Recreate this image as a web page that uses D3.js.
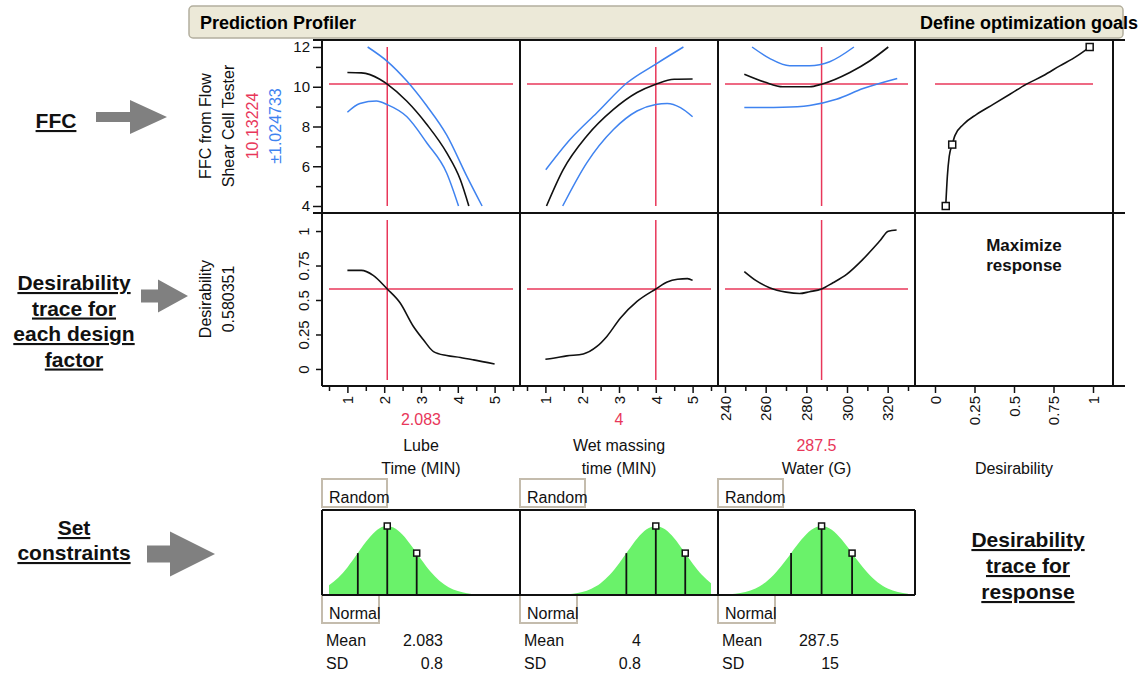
<!DOCTYPE html>
<html>
<head>
<meta charset="utf-8">
<script src="https://cdn.jsdelivr.net/npm/d3@7"></script>
<style>
  body { margin: 0; background: #fff; }
  svg { display: block; font-family: 'Liberation Sans', Arial, sans-serif; }
</style>
</head>
<body>
<div id="chart"></div>
<script>
// profiler traces as [x, y] pairs
const lubeFit = [[1.0, 10.72], [1.38, 10.7], [1.88, 10.38], [2.083, 10.13], [2.61, 9.28], [3.16, 8.1], [3.7, 6.67], [4.07, 5.32], [4.3, 4.0]];
const lubeUpper = [[1.55, 12.0], [2.083, 11.28], [2.61, 10.3], [3.16, 9.03], [3.7, 7.57], [4.25, 5.48], [4.66, 4.0]];
const lubeLower = [[1.0, 8.72], [1.34, 9.16], [1.79, 9.28], [2.083, 9.1], [2.61, 8.5], [3.16, 7.17], [3.7, 5.65], [4.02, 4.0]];

const wetFit = [[1.03, 4.0], [1.48, 5.82], [2.12, 7.51], [2.85, 8.86], [3.49, 9.71], [4.0, 10.13], [4.5, 10.38], [5.0, 10.39]];
const wetUpper = [[1.01, 5.82], [1.67, 7.34], [2.4, 8.69], [3.22, 10.2], [4.0, 11.14], [4.75, 12.0]];
const wetLower = [[1.47, 4.0], [2.12, 6.16], [2.85, 7.85], [3.49, 8.78], [4.0, 9.11], [4.31, 9.16], [4.67, 8.95], [5.0, 8.49]];

const waterFit = [[249.5, 10.63], [259.4, 10.24], [268.4, 10.0], [281.6, 10.0], [287.5, 10.13], [301.4, 10.72], [311.3, 11.31], [320.3, 12.0]];
const waterUpper = [[253.3, 12.0], [261.9, 11.43], [271.8, 11.06], [281.6, 11.06], [291.5, 11.26], [303.4, 12.0]];
const waterLower = [[249.5, 8.95], [268.4, 8.97], [281.6, 9.06], [294.8, 9.37], [307.9, 9.91], [324.7, 10.42]];

const lubeDes = [[1.0, 0.715], [1.38, 0.715], [1.7, 0.679], [2.083, 0.58], [2.43, 0.48], [2.79, 0.31], [3.07, 0.21], [3.34, 0.126], [3.7, 0.097], [4.07, 0.083], [4.43, 0.066], [5.0, 0.036]];
const wetDes = [[1.0, 0.071], [1.21, 0.078], [1.58, 0.095], [2.03, 0.109], [2.4, 0.163], [2.67, 0.236], [3.04, 0.37], [3.49, 0.49], [4.0, 0.58], [4.31, 0.63], [4.59, 0.65], [4.86, 0.655], [5.0, 0.642]];
const waterDes = [[249.5, 0.706], [255.3, 0.64], [261.9, 0.589], [270.1, 0.557], [276.7, 0.547], [281.6, 0.56], [287.5, 0.58], [293.1, 0.625], [299.8, 0.686], [307.9, 0.796], [316.2, 0.929], [320.3, 0.998], [324.4, 1.007]];

// desirability function (x = desirability, y = FFC)
const desFunction = [[0.068, 4.0], [0.078, 5.48], [0.09, 6.5], [0.109, 7.09], [0.126, 7.54], [0.179, 8.1], [0.263, 8.61], [0.368, 9.11], [0.474, 9.62], [0.579, 10.13], [0.684, 10.55], [0.79, 11.05], [0.895, 11.53], [0.979, 12.0]];
const desHandles = [[0.068, 4.0], [0.109, 7.09], [0.979, 12.0]];

// current settings
const factorNames = [['Lube', 'Time (MIN)'], ['Wet massing', 'time (MIN)'], ['Water (G)']];
const factorValues = [2.083, 4, 287.5];
const factorLabels = ['2.083', '4', '287.5'];
const ffcValue = 10.13224;
const ffcLabel = '10.13224';
const ffcCI = '\u00b11.024733';
const desValue = 0.580351;
const desLabel = '0.580351';

// tick values
const timeTicks = [1, 2, 3, 4, 5];
const timeMinor = [0.5, 1.5, 2.5, 3.5, 4.5, 5.5];
const waterTicks = [240, 260, 280, 300, 320];
const waterMinor = [250, 270, 290, 310, 330];
const desTicks = [0, 0.25, 0.5, 0.75, 1];
const ffcTicks = [4, 6, 8, 10, 12];
const ffcMinor = [5, 7, 9, 11];

// simulator distributions (relative density)
const distMeans = ['2.083', '4', '287.5'];
const distSD = ['0.8', '0.8', '15'];
const lubeDist = [[0.5, 0.141], [0.75, 0.25], [1.0, 0.4], [1.25, 0.582], [1.5, 0.767], [1.75, 0.917], [2.0, 0.995], [2.083, 1], [2.25, 0.978], [2.5, 0.873], [2.75, 0.706], [3.0, 0.518], [3.25, 0.345], [3.5, 0.208], [3.75, 0.114], [4.0, 0.057], [4.25, 0.026], [4.5, 0.01], [4.75, 0.004], [5.0, 0.001], [5.25, 0], [5.5, 0]];
const wetDist = [[0.5, 0], [1.0, 0.001], [1.25, 0.003], [1.5, 0.008], [1.75, 0.019], [2.0, 0.044], [2.25, 0.092], [2.5, 0.172], [2.75, 0.295], [3.0, 0.458], [3.25, 0.644], [3.5, 0.823], [3.75, 0.952], [4.0, 1], [4.25, 0.952], [4.5, 0.823], [4.75, 0.644], [5.0, 0.458], [5.25, 0.295], [5.5, 0.172]];
const waterDist = [[240, 0.007], [245, 0.018], [250, 0.044], [255, 0.096], [260, 0.186], [265, 0.325], [270, 0.506], [275, 0.707], [280, 0.882], [285, 0.986], [287.5, 1], [290, 0.986], [295, 0.882], [300, 0.707], [305, 0.506], [310, 0.325], [315, 0.186], [320, 0.096], [325, 0.044], [330, 0.018]];
const lubeMarks = [[1.283, 0.607], [2.083, 1], [2.883, 0.607]];
const wetMarks = [[3.2, 0.607], [4.0, 1], [4.8, 0.607]];
const waterMarks = [[272.5, 0.607], [287.5, 1], [302.5, 0.607]];

const RED = '#e8375a';
const BLUE = '#3f83f0';
const GREEN = '#6af26a';
const GREY = '#808080';
const FONT = 'Liberation Sans, Arial, sans-serif';

const svg = d3.select('#chart').append('svg').attr('width', 1145).attr('height', 678);

// layout of the profiler grid
const colX = [322, 520, 718, 915, 1113];
const rowY = [40, 213, 386];
const pad = 7;

const xLube = d3.scaleLinear().domain([0.5, 5.5]).range([colX[0] + pad, colX[1] - pad]);
const xWet = d3.scaleLinear().domain([0.5, 5.5]).range([colX[1] + pad, colX[2] - pad]);
const xWater = d3.scaleLinear().domain([240, 330]).range([colX[2] + pad, colX[3] - pad]);
const xDes = d3.scaleLinear().domain([0, 1]).range([colX[3] + 20, colX[4] - 20]);
const yFFC = d3.scaleLinear().domain([4, 12]).range([rowY[1] - pad, rowY[0] + pad]);
const yDes = d3.scaleLinear().domain([-0.08, 1.08]).range([rowY[2] - 6, rowY[1] + 7]);
const yDist = d3.scaleLinear().domain([0, 1]).range([595, 526]);

const factors = [
  { x: xLube, fit: lubeFit, upper: lubeUpper, lower: lubeLower, des: lubeDes, dist: lubeDist, marks: lubeMarks, ticks: timeTicks, minor: timeMinor },
  { x: xWet, fit: wetFit, upper: wetUpper, lower: wetLower, des: wetDes, dist: wetDist, marks: wetMarks, ticks: timeTicks, minor: timeMinor },
  { x: xWater, fit: waterFit, upper: waterUpper, lower: waterLower, des: waterDes, dist: waterDist, marks: waterMarks, ticks: waterTicks, minor: waterMinor }
];

// rotated tick labels under an axis
const rotateBottom = (g) => g.selectAll('text')
  .attr('transform', 'rotate(-90)').attr('x', -10).attr('y', 0).attr('dy', '0.35em')
  .attr('text-anchor', 'end').attr('fill', '#111')
  .style('font-size', '15px').style('font-family', FONT);
const darkTicks = (g) => g.selectAll('line').attr('stroke', '#111').attr('stroke-width', 1.5);

// header bar
svg.append('rect')
  .attr('x', 189).attr('y', 6).attr('width', 934).attr('height', 32).attr('rx', 4)
  .attr('fill', '#ece9d8').attr('stroke', '#b3af9e').attr('stroke-width', 1.5);
svg.append('text').attr('x', 200).attr('y', 29)
  .style('font-size', '18px').style('font-weight', 'bold').text('Prediction Profiler');
svg.append('text').attr('x', 1138).attr('y', 29).attr('text-anchor', 'end')
  .style('font-size', '18px').style('font-weight', 'bold').text('Define optimization goals');

factors.forEach((f, i) => {
  const line = d3.line().x((d) => f.x(d[0])).y((d) => yFFC(d[1])).curve(d3.curveMonotoneX);
  const dline = d3.line().x((d) => f.x(d[0])).y((d) => yDes(d[1])).curve(d3.curveMonotoneX);
  const [r0, r1] = f.x.range();
  const vx = f.x(factorValues[i]);

  // crosshairs
  svg.append('line').attr('x1', r0).attr('x2', r1).attr('y1', yFFC(ffcValue)).attr('y2', yFFC(ffcValue))
    .attr('stroke', RED).attr('stroke-width', 1.5);
  svg.append('line').attr('x1', vx).attr('x2', vx).attr('y1', yFFC.range()[0]).attr('y2', yFFC.range()[1])
    .attr('stroke', RED).attr('stroke-width', 1.5);
  svg.append('line').attr('x1', r0).attr('x2', r1).attr('y1', yDes(desValue)).attr('y2', yDes(desValue))
    .attr('stroke', RED).attr('stroke-width', 1.5);
  svg.append('line').attr('x1', vx).attr('x2', vx).attr('y1', yDes.range()[0]).attr('y2', yDes.range()[1])
    .attr('stroke', RED).attr('stroke-width', 1.5);

  // prediction trace and confidence band
  [f.upper, f.lower].forEach((s) => {
    svg.append('path').datum(s).attr('d', line).attr('fill', 'none').attr('stroke', BLUE).attr('stroke-width', 1.5);
  });
  svg.append('path').datum(f.fit).attr('d', line).attr('fill', 'none').attr('stroke', '#111').attr('stroke-width', 1.6);
  svg.append('path').datum(f.des).attr('d', dline).attr('fill', 'none').attr('stroke', '#111').attr('stroke-width', 1.6);

  // x axis
  svg.append('g').attr('transform', `translate(0,${rowY[2]})`)
    .call(d3.axisBottom(f.x).tickValues(f.minor).tickSize(5).tickFormat(''))
    .call((g) => g.select('.domain').remove())
    .call(darkTicks);
  svg.append('g').attr('transform', `translate(0,${rowY[2]})`)
    .call(d3.axisBottom(f.x).tickValues(f.ticks).tickSize(7).tickFormat((d) => String(d)))
    .call((g) => g.select('.domain').remove())
    .call(darkTicks)
    .call(rotateBottom);

  // labels below
  const cx = (colX[i] + colX[i + 1]) / 2;
  const names = factorNames[i];
  const valY = names.length === 2 ? 425 : 450.5;
  svg.append('text').attr('x', cx).attr('y', valY).attr('text-anchor', 'middle')
    .attr('fill', RED).style('font-size', '16px').text(factorLabels[i]);
  names.forEach((n, k) => {
    svg.append('text').attr('x', cx).attr('y', names.length === 2 ? 450.5 + k * 23.5 : 474)
      .attr('text-anchor', 'middle').attr('fill', '#111').style('font-size', '16px').text(n);
  });

  // simulator distribution
  const area = d3.area().x((d) => f.x(d[0])).y0(yDist(0)).y1((d) => yDist(d[1])).curve(d3.curveMonotoneX);
  svg.append('path').datum(f.dist).attr('d', area).attr('fill', GREEN);
  f.marks.forEach((m, k) => {
    svg.append('line').attr('x1', f.x(m[0])).attr('x2', f.x(m[0])).attr('y1', yDist(0)).attr('y2', yDist(m[1]))
      .attr('stroke', '#111').attr('stroke-width', 1.8);
    if (k > 0) {
      svg.append('rect').attr('x', f.x(m[0]) - 3).attr('y', yDist(m[1]) - 3).attr('width', 6).attr('height', 6)
        .attr('fill', '#fff').attr('stroke', '#111').attr('stroke-width', 1.5);
    }
  });

  // Random / Normal boxes and settings
  const bx = colX[i];
  svg.append('rect').attr('x', bx).attr('y', 479).attr('width', 65).attr('height', 28)
    .attr('fill', 'none').attr('stroke', '#c4bcad').attr('stroke-width', 2);
  svg.append('text').attr('x', bx + 7).attr('y', 503).style('font-size', '16px').attr('fill', '#111').text('Random');
  svg.append('rect').attr('x', bx).attr('y', 595).attr('width', 57).attr('height', 28)
    .attr('fill', 'none').attr('stroke', '#c4bcad').attr('stroke-width', 2);
  svg.append('text').attr('x', bx + 7).attr('y', 619).style('font-size', '16px').attr('fill', '#111').text('Normal');
  svg.append('text').attr('x', bx + 4).attr('y', 646).style('font-size', '16px').attr('fill', '#111').text('Mean');
  svg.append('text').attr('x', bx + 121).attr('y', 646).attr('text-anchor', 'end').style('font-size', '16px').attr('fill', '#111').text(distMeans[i]);
  svg.append('text').attr('x', bx + 4).attr('y', 669).style('font-size', '16px').attr('fill', '#111').text('SD');
  svg.append('text').attr('x', bx + 121).attr('y', 669).attr('text-anchor', 'end').style('font-size', '16px').attr('fill', '#111').text(distSD[i]);
});

// distribution frame
[510, 595].forEach((y) => {
  svg.append('line').attr('x1', colX[0]).attr('x2', colX[3]).attr('y1', y).attr('y2', y).attr('stroke', '#111').attr('stroke-width', 2);
});
colX.slice(0, 4).forEach((x) => {
  svg.append('line').attr('x1', x).attr('x2', x).attr('y1', 510).attr('y2', 595).attr('stroke', '#111').attr('stroke-width', 2);
});

// desirability function panel
svg.append('line').attr('x1', xDes(0)).attr('x2', xDes(1)).attr('y1', yFFC(ffcValue)).attr('y2', yFFC(ffcValue))
  .attr('stroke', RED).attr('stroke-width', 1.5);
svg.append('path').datum(desFunction)
  .attr('d', d3.line().x((d) => xDes(d[0])).y((d) => yFFC(d[1])).curve(d3.curveMonotoneX))
  .attr('fill', 'none').attr('stroke', '#111').attr('stroke-width', 1.6);
svg.selectAll('.handle').data(desHandles).join('rect').attr('class', 'handle')
  .attr('x', (d) => xDes(d[0]) - 3.5).attr('y', (d) => yFFC(d[1]) - 3.5).attr('width', 7).attr('height', 7)
  .attr('fill', '#fff').attr('stroke', '#111').attr('stroke-width', 1.5);
svg.append('g').attr('transform', `translate(0,${rowY[2]})`)
  .call(d3.axisBottom(xDes).tickValues(desTicks).tickSize(7).tickFormat((d) => String(d)))
  .call((g) => g.select('.domain').remove())
  .call(darkTicks)
  .call(rotateBottom);
svg.append('text').attr('x', (colX[3] + colX[4]) / 2).attr('y', 474).attr('text-anchor', 'middle')
  .style('font-size', '16px').attr('fill', '#111').text('Desirability');
['Maximize', 'response'].forEach((t, k) => {
  svg.append('text').attr('x', 1024).attr('y', 251 + k * 20).attr('text-anchor', 'middle')
    .style('font-size', '17px').style('font-weight', 'bold').attr('fill', '#111').text(t);
});

// y axes
svg.append('g').attr('transform', `translate(${colX[0]},0)`)
  .call(d3.axisLeft(yFFC).tickValues(ffcMinor).tickSize(6).tickFormat(''))
  .call((g) => g.select('.domain').remove())
  .call(darkTicks);
svg.append('g').attr('transform', `translate(${colX[0]},0)`)
  .call(d3.axisLeft(yFFC).tickValues(ffcTicks).tickSize(9).tickPadding(3).tickFormat((d) => String(d)))
  .call((g) => g.select('.domain').remove())
  .call(darkTicks)
  .call((g) => g.selectAll('text').attr('fill', '#111').style('font-size', '15px').style('font-family', FONT));
svg.append('g').attr('transform', `translate(${colX[0]},0)`)
  .call(d3.axisLeft(yDes).tickValues(desTicks).tickSize(6).tickFormat((d) => String(d)))
  .call((g) => g.select('.domain').remove())
  .call(darkTicks)
  .call((g) => g.selectAll('text')
    .attr('transform', 'rotate(-90)').attr('x', 0).attr('y', -13).attr('dy', 0)
    .attr('text-anchor', 'middle').attr('fill', '#111')
    .style('font-size', '15px').style('font-family', FONT));

// y titles
const topTitles = [['FFC from Flow', '#111'], ['Shear Cell Tester', '#111'], [ffcLabel, RED], [ffcCI, BLUE]];
topTitles.forEach((t, k) => {
  svg.append('text').attr('transform', `translate(${205 + k * 23.5},126) rotate(-90)`)
    .attr('text-anchor', 'middle').attr('dy', '0.35em').attr('fill', t[1]).style('font-size', '16px').text(t[0]);
});
[['Desirability', '#111'], [desLabel, '#111']].forEach((t, k) => {
  svg.append('text').attr('transform', `translate(${205 + k * 23.5},299) rotate(-90)`)
    .attr('text-anchor', 'middle').attr('dy', '0.35em').attr('fill', t[1]).style('font-size', '16px').text(t[0]);
});

// grid frame
[rowY[0], rowY[1]].forEach((y) => {
  svg.append('line').attr('x1', 313).attr('x2', 1125).attr('y1', y).attr('y2', y).attr('stroke', '#111').attr('stroke-width', 2);
});
svg.append('line').attr('x1', colX[0]).attr('x2', 1125).attr('y1', rowY[2]).attr('y2', rowY[2]).attr('stroke', '#111').attr('stroke-width', 2);
colX.forEach((x) => {
  svg.append('line').attr('x1', x).attr('x2', x).attr('y1', rowY[0]).attr('y2', rowY[2]).attr('stroke', '#111').attr('stroke-width', 2);
});

// annotations
function note(lines, cx, y0, step) {
  lines.forEach((t, k) => {
    svg.append('text').attr('x', cx).attr('y', y0 + k * step).attr('text-anchor', 'middle')
      .style('font-size', '21px').style('font-weight', 'bold').style('text-decoration', 'underline')
      .attr('fill', '#111').text(t);
  });
}
note(['FFC'], 56, 128, 0);
note(['Desirability', 'trace for', 'each design', 'factor'], 74, 290, 25.5);
note(['Set', 'constraints'], 74, 535, 25);
note(['Desirability', 'trace for', 'response'], 1028, 547, 26);

function arrow(x0, xm, x1, yc, sh, hh) {
  const p = [[x0, yc - sh], [xm, yc - sh], [xm, yc - hh], [x1, yc], [xm, yc + hh], [xm, yc + sh], [x0, yc + sh]];
  svg.append('polygon').attr('points', p.map((d) => d.join(',')).join(' ')).attr('fill', GREY);
}
arrow(96, 130, 167, 117, 5, 17);
arrow(141, 158, 188, 296, 6.5, 16.5);
arrow(147, 170, 215, 554, 8.5, 22.5);
</script>
</body>
</html>
